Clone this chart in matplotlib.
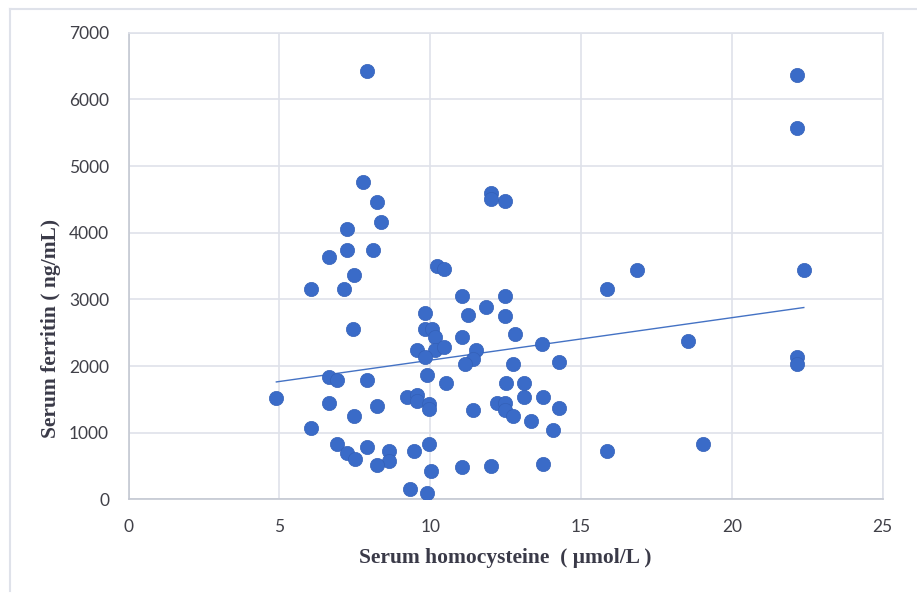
import matplotlib
matplotlib.use("Agg")
import matplotlib.pyplot as plt
from matplotlib.lines import Line2D
import numpy as np

# serum homocysteine (umol/L)
hcy = [
    4.90, 7.92, 7.76, 8.24, 8.37, 7.25, 7.24, 8.12, 6.64, 6.04,
    7.16, 7.48, 7.44, 10.22, 10.45, 9.84, 9.84, 10.06, 10.15, 9.56,
    10.15, 10.45, 9.84, 9.89, 10.53, 6.64, 6.92, 7.91, 6.64, 8.23,
    7.48, 6.04, 9.23, 9.56, 9.56, 9.95, 9.95, 6.92, 7.24, 7.51,
    7.91, 8.63, 8.63, 8.23, 9.45, 9.95, 10.04, 9.34, 9.89, 11.04,
    12.48, 11.86, 11.26, 12.48, 12.83, 11.04, 11.53, 11.42, 11.14, 13.70,
    12.75, 14.28, 12.51, 13.12, 12.22, 12.48, 12.48, 13.12, 13.73, 11.42,
    12.75, 13.34, 14.28, 14.06, 11.04, 12.03, 13.73, 15.87, 16.86, 22.39,
    18.56, 22.17, 22.17, 15.87, 19.04, 22.17, 22.17, 12.03, 12.03, 12.47,
]
# serum ferritin (ng/mL)
ferritin = [
    1520, 6430, 4760, 4460, 4160, 4060, 3740, 3740, 3640, 3150,
    3150, 3370, 2550, 3500, 3450, 2800, 2550, 2550, 2430, 2240,
    2240, 2280, 2130, 1860, 1740, 1840, 1790, 1790, 1440, 1400,
    1250, 1070, 1540, 1560, 1480, 1430, 1360, 830, 690, 600,
    780, 730, 580, 520, 730, 830, 430, 160, 100, 3050,
    3050, 2880, 2760, 2750, 2480, 2430, 2240, 2110, 2030, 2330,
    2030, 2060, 1740, 1740, 1440, 1440, 1340, 1540, 1540, 1340,
    1250, 1170, 1370, 1040, 480, 500, 530, 3150, 3440, 3440,
    2380, 2140, 2030, 730, 830, 6370, 5570, 4590, 4510, 4470,
]

# linear trendline as drawn in the reference
trend_slope = 63.8
trend_intercept = 1449

x_ticks = [0, 5, 10, 15, 20, 25]
y_ticks = [0, 1000, 2000, 3000, 4000, 5000, 6000, 7000]

POINT = "#3A6BC8"
GRID = "#dfe2ea"
TEXT = "#404048"

fig = plt.figure(figsize=(9.17, 5.94), dpi=100)
ax = fig.add_axes([0.1402, 0.1593, 0.8222, 0.7857])

ax.scatter(hcy, ferritin, s=105, color=POINT, edgecolors="#3461b8",
           linewidths=0.5, zorder=3)

xs = np.array([min(hcy), max(hcy)])
ax.plot(xs, trend_intercept + trend_slope * xs, color="#4472C4", lw=1.0, zorder=2)

ax.set_xlim(0, 25)
ax.set_ylim(0, 7000)
ax.set_xticks(x_ticks)
ax.set_yticks(y_ticks)
ax.grid(True, color=GRID, lw=1.2, zorder=0)
ax.set_axisbelow(True)
ax.tick_params(length=0, labelsize=12.5, labelcolor=TEXT)
ax.tick_params(axis="y", pad=14)
ax.tick_params(axis="x", pad=14)
for lab in ax.get_xticklabels() + ax.get_yticklabels():
    lab.set_family("Lato")
for side, sp in ax.spines.items():
    sp.set_color(GRID)
    sp.set_linewidth(1.2)
ax.spines["left"].set_color("#c4c8d2")
ax.spines["bottom"].set_color("#c4c8d2")

ax.set_xlabel("Serum homocysteine  ( μmol/L )", family="Liberation Serif",
              fontweight="bold", fontsize=15.5, color="#3a3a48")
ax.set_ylabel("Serum ferritin ( ng/mL)", family="Liberation Serif",
              fontweight="bold", fontsize=15.5, color="#3a3a48")
ax.xaxis.set_label_coords(0.5, -0.104)
ax.yaxis.set_label_coords(-0.09, 0.367)

# thin frame of the chart area (top and left edges of the screenshot)
fig.add_artist(Line2D([10 / 917, 1], [1 - 9 / 594, 1 - 9 / 594],
                      transform=fig.transFigure, color=GRID, lw=1.5))
fig.add_artist(Line2D([10 / 917, 10 / 917], [0.005, 1 - 9 / 594],
                      transform=fig.transFigure, color=GRID, lw=1.5))

fig.savefig("out.png", dpi=100)
